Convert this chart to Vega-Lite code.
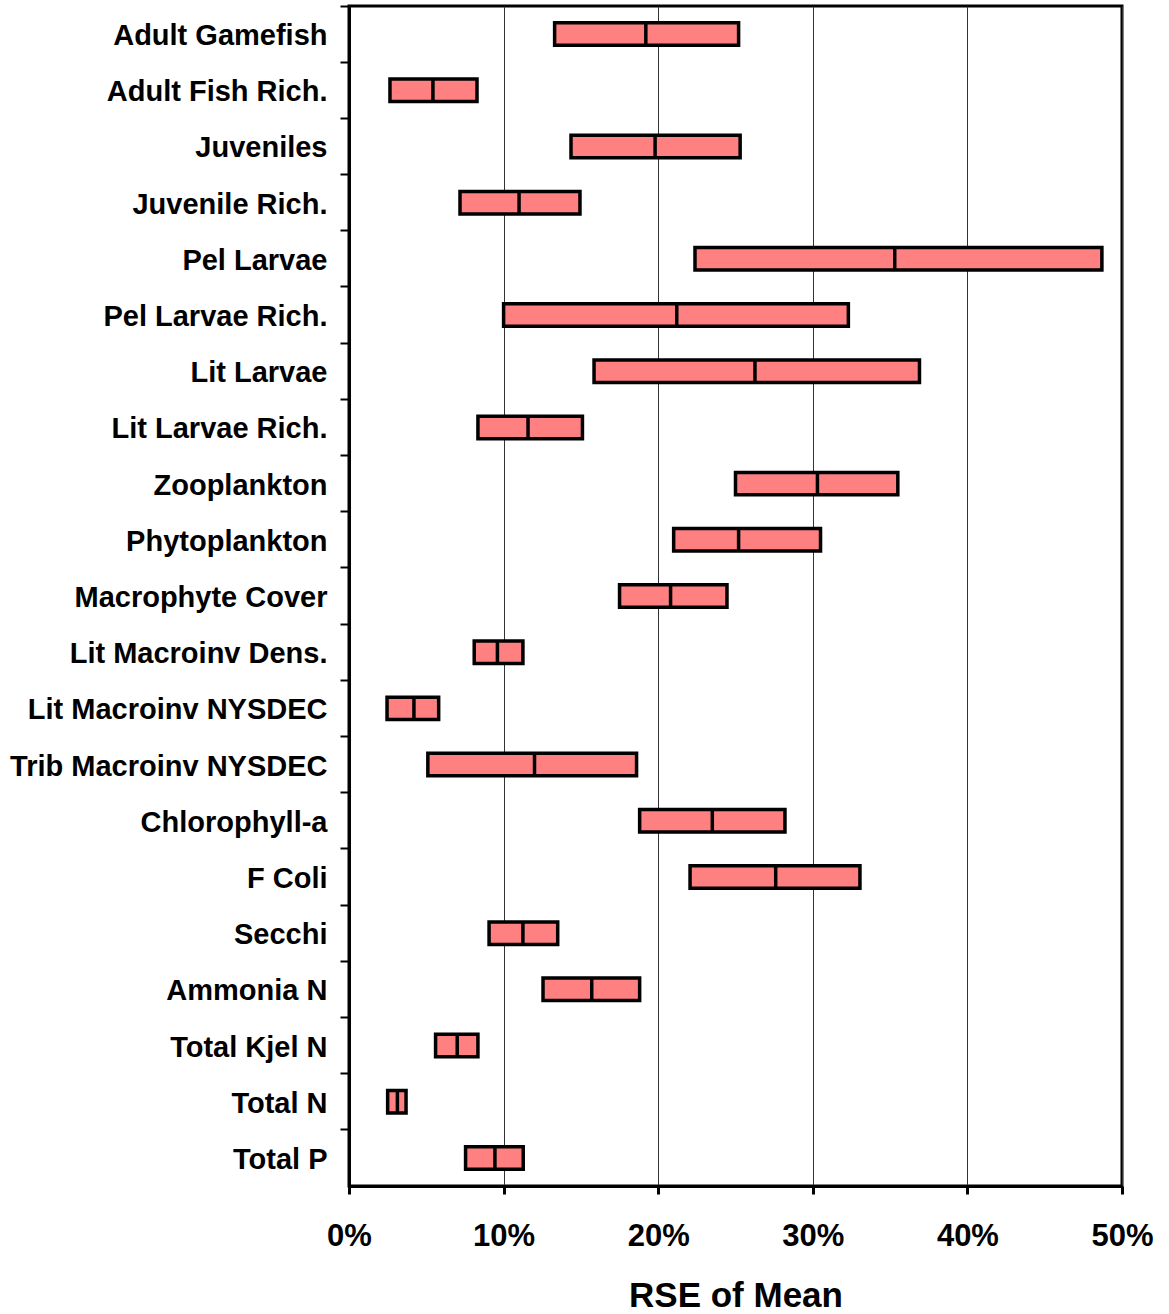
{
  "$schema": "https://vega.github.io/schema/vega-lite/v6.json",
  "autosize": "none",
  "width": 773,
  "height": 1180,
  "padding": {"left": 349, "top": 6, "right": 47, "bottom": 128},
  "background": "white",
  "config": {
    "font": "Liberation Sans",
    "view": {"stroke": "black", "strokeWidth": 3}
  },
  "data": {
    "values": [
      {"metric": "Adult Gamefish", "low": 13.3, "median": 19.2, "high": 25.2},
      {"metric": "Adult Fish Rich.", "low": 2.65, "median": 5.43, "high": 8.28},
      {"metric": "Juveniles", "low": 14.36, "median": 19.8, "high": 25.3},
      {"metric": "Juvenile Rich.", "low": 7.18, "median": 11.0, "high": 14.94},
      {"metric": "Pel Larvae", "low": 22.38, "median": 35.3, "high": 48.7},
      {"metric": "Pel Larvae Rich.", "low": 10.0, "median": 21.2, "high": 32.3},
      {"metric": "Lit Larvae", "low": 15.85, "median": 26.26, "high": 36.9},
      {"metric": "Lit Larvae Rich.", "low": 8.34, "median": 11.58, "high": 15.1},
      {"metric": "Zooplankton", "low": 25.0, "median": 30.3, "high": 35.5},
      {"metric": "Phytoplankton", "low": 21.0, "median": 25.2, "high": 30.5},
      {"metric": "Macrophyte Cover", "low": 17.5, "median": 20.8, "high": 24.45},
      {"metric": "Lit Macroinv Dens.", "low": 8.1, "median": 9.6, "high": 11.25},
      {"metric": "Lit Macroinv NYSDEC", "low": 2.46, "median": 4.2, "high": 5.8},
      {"metric": "Trib Macroinv NYSDEC", "low": 5.1, "median": 12.0, "high": 18.6},
      {"metric": "Chlorophyll-a", "low": 18.8, "median": 23.5, "high": 28.2},
      {"metric": "F Coli", "low": 22.06, "median": 27.6, "high": 33.05},
      {"metric": "Secchi", "low": 9.06, "median": 11.25, "high": 13.5},
      {"metric": "Ammonia N", "low": 12.55, "median": 15.7, "high": 18.8},
      {"metric": "Total Kjel N", "low": 5.6, "median": 7.0, "high": 8.34},
      {"metric": "Total N", "low": 2.5, "median": 3.13, "high": 3.69},
      {"metric": "Total P", "low": 7.54, "median": 9.44, "high": 11.27}
    ]
  },
  "encoding": {
    "y": {
      "field": "metric",
      "type": "nominal",
      "sort": null,
      "scale": {"paddingInner": 0, "paddingOuter": 0},
      "axis": {
        "title": null,
        "bandPosition": 0,
        "domainColor": "black",
        "domainWidth": 3,
        "tickColor": "black",
        "tickWidth": 2,
        "tickSize": 9,
        "labelFont": "Liberation Sans",
        "labelFontWeight": "bold",
        "labelFontSize": 29,
        "labelColor": "black",
        "labelPadding": 13,
        "labelOffset": 2,
        "labelLimit": 500
      }
    }
  },
  "layer": [
    {
      "mark": {"type": "bar", "height": {"band": 0.4}, "fill": "#FF8080", "stroke": "black", "strokeWidth": 3.5},
      "encoding": {
        "x": {
          "field": "low",
          "type": "quantitative",
          "scale": {"domain": [0, 50], "nice": false},
          "axis": {
            "values": [0, 10, 20, 30, 40, 50],
            "labelExpr": "datum.value + '%'",
            "title": "RSE of Mean",
            "titleFont": "Liberation Sans",
            "titleFontWeight": "bold",
            "titleFontSize": 35,
            "titleColor": "black",
            "titlePadding": 27,
            "grid": true,
            "gridColor": "#333333",
            "gridWidth": 1,
            "domainColor": "black",
            "domainWidth": 3,
            "tickColor": "black",
            "tickWidth": 3,
            "tickSize": 8,
            "labelFont": "Liberation Sans",
            "labelFontWeight": "bold",
            "labelFontSize": 31,
            "labelColor": "black",
            "labelPadding": 27,
            "labelFlush": false
          }
        },
        "x2": {"field": "high"}
      }
    },
    {
      "mark": {"type": "tick", "orient": "vertical", "color": "black", "thickness": 3.5, "size": 24, "opacity": 1},
      "encoding": {
        "x": {"field": "median", "type": "quantitative"}
      }
    }
  ]
}
